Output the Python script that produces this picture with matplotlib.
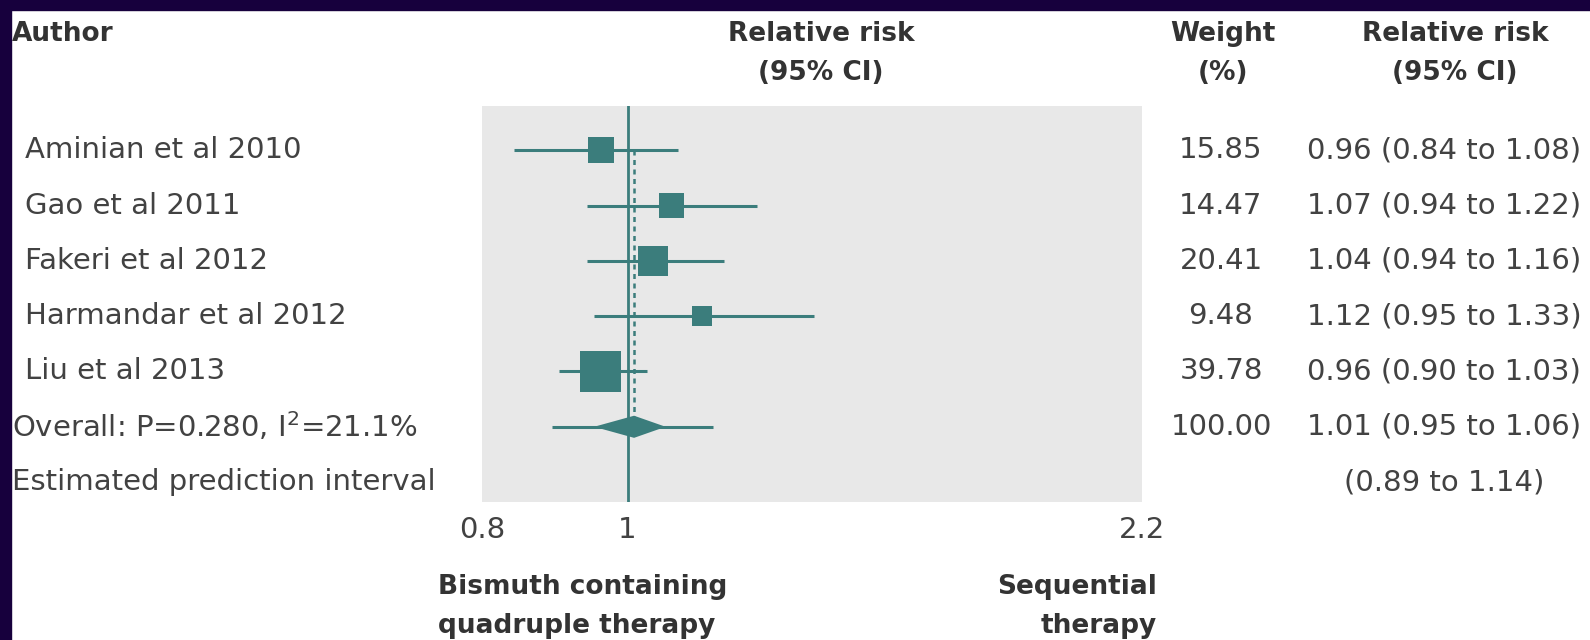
import numpy as np
import matplotlib.pyplot as plt
import matplotlib.transforms as mtransforms
from matplotlib.patches import Rectangle
from matplotlib.ticker import NullLocator

# data
studies = ['Aminian et al 2010', 'Gao et al 2011', 'Fakeri et al 2012',
           'Harmandar et al 2012', 'Liu et al 2013']
rr = [0.96, 1.07, 1.04, 1.12, 0.96]
ci_low = [0.84, 0.94, 0.94, 0.95, 0.90]
ci_high = [1.08, 1.22, 1.16, 1.33, 1.03]
weights = [15.85, 14.47, 20.41, 9.48, 39.78]
overall = [1.01, 0.95, 1.06]          # estimate, low, high
overall_weight = 100.00
prediction = [0.89, 1.14]             # prediction interval
overall_label = 'Overall: P=0.280, I$^2$=21.1%'
pred_label = 'Estimated prediction interval'
xticks = [0.8, 1, 2.2]
xtick_labels = ['0.8', '1', '2.2']

teal = '#3b7d7c'
txt = '#424242'
hdr = '#333333'
frame = '#17003d'

W, H = 1590, 640
fig = plt.figure(figsize=(W / 100, H / 100), dpi=100, facecolor='white')
# dark frame on top and left
fig.patches.append(Rectangle((0, 1 - 10 / H), 1, 10 / H, transform=fig.transFigure,
                             color=frame, zorder=0))
fig.patches.append(Rectangle((0, 0), 11 / W, 1, transform=fig.transFigure,
                             color=frame, zorder=0))

ax = fig.add_axes([482 / W, 1 - 502 / H, 660 / W, 396 / H])
ax.set_xscale('log')
ax.set_xlim(0.8, 2.2)
ax.set_ylim(6.36, -0.8)
ax.set_facecolor('#e8e8e8')
for s in ax.spines.values():
    s.set_visible(False)
ax.set_xticks(xticks)
ax.set_xticklabels(xtick_labels)
ax.xaxis.set_minor_locator(NullLocator())
ax.tick_params(axis='x', length=0, pad=10, labelsize=21, labelcolor=txt)
ax.set_yticks([])

# line of no effect and overall estimate
ax.axvline(1, color=teal, lw=2, zorder=2)
ax.plot([overall[0], overall[0]], [0, 5], color=teal, lw=1.8,
        dashes=(2, 1.8), zorder=2)

rows = np.arange(len(studies))
ax.hlines(rows, ci_low, ci_high, color=teal, lw=2.2, zorder=3)
ax.scatter(rr, rows, s=np.array(weights) * 21.9, marker='s', color=teal,
           linewidths=0, zorder=4)

# overall row: prediction interval line + diamond
yo = len(studies)
ax.hlines(yo, prediction[0], prediction[1], color=teal, lw=2.2, zorder=3)
ax.fill([overall[1], overall[0], overall[2], overall[0]],
        [yo, yo - 0.2, yo, yo + 0.2], color=teal, lw=0, zorder=4)

# text columns
tr = mtransforms.blended_transform_factory(fig.transFigure, ax.transData)
fs = 21
for i, name in enumerate(studies):
    ax.text(25 / W, i, name, transform=tr, ha='left', va='center',
            fontsize=fs, color=txt)
    ax.text(1221 / W, i, f'{weights[i]:.2f}', transform=tr, ha='center',
            va='center', fontsize=fs, color=txt)
    ax.text(1444 / W, i, f'{rr[i]:.2f} ({ci_low[i]:.2f} to {ci_high[i]:.2f})',
            transform=tr, ha='center', va='center', fontsize=fs, color=txt)

ax.text(12 / W, yo, overall_label, transform=tr, ha='left', va='center',
        fontsize=fs, color=txt)
ax.text(1221 / W, yo, f'{overall_weight:.2f}', transform=tr, ha='center',
        va='center', fontsize=fs, color=txt)
ax.text(1444 / W, yo, f'{overall[0]:.2f} ({overall[1]:.2f} to {overall[2]:.2f})',
        transform=tr, ha='center', va='center', fontsize=fs, color=txt)
ax.text(12 / W, yo + 1, pred_label, transform=tr, ha='left', va='center',
        fontsize=fs, color=txt)
ax.text(1444 / W, yo + 1, f'({prediction[0]:.2f} to {prediction[1]:.2f})',
        transform=tr, ha='center', va='center', fontsize=fs, color=txt)

# headers
hs = 19
fig.text(12 / W, 1 - 34 / H, 'Author', ha='left', va='center',
         fontsize=hs, fontweight='bold', color=hdr)
for x, lines in [(821, ['Relative risk', '(95% CI)']),
                 (1223, ['Weight', '(%)']),
                 (1455, ['Relative risk', '(95% CI)'])]:
    for y, line in zip([34, 73], lines):
        fig.text(x / W, 1 - y / H, line, ha='center', va='center',
                 fontsize=hs, fontweight='bold', color=hdr)

# direction labels under the axis
for y, (left, right) in zip([587, 626], [('Bismuth containing', 'Sequential'),
                                         ('quadruple therapy', 'therapy')]):
    fig.text(438 / W, 1 - y / H, left, ha='left', va='center',
             fontsize=hs, fontweight='bold', color=hdr)
    fig.text(1157 / W, 1 - y / H, right, ha='right', va='center',
             fontsize=hs, fontweight='bold', color=hdr)

fig.savefig('out.png', dpi=100, facecolor='white')
